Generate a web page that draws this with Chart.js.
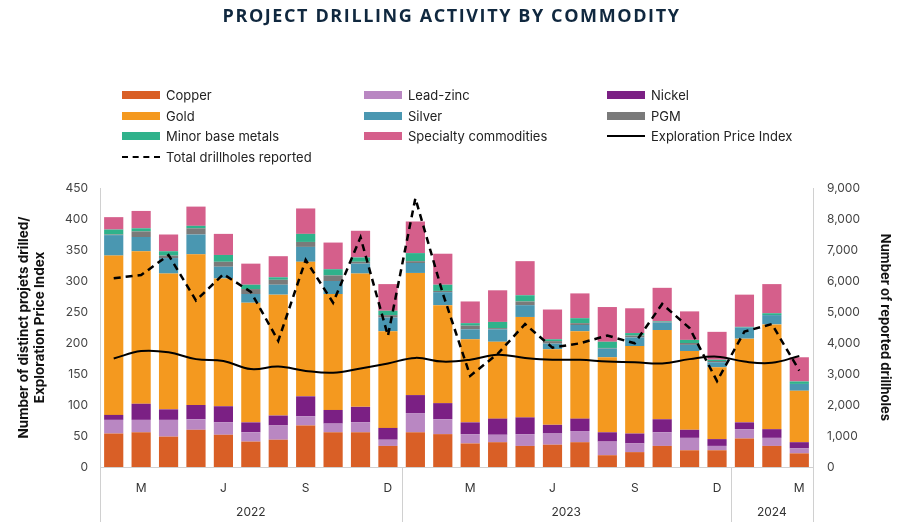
<!DOCTYPE html>
<html>
<head>
<meta charset="utf-8">
<script src="https://cdn.jsdelivr.net/npm/chart.js@4.4.1/dist/chart.umd.min.js"></script>
<style>
    body { margin: 0; background: #fff; font-family: Inter, "Liberation Sans", sans-serif; }
    #wrap { position: relative; width: 903px; height: 530px; }
    #chart { position: absolute; left: 0; top: 0; }
    .title {
        position: absolute; left: 0; top: 3px; width: 903px; text-align: center;
        font-family: "Open Sans", sans-serif; font-weight: 700; font-size: 18px;
        letter-spacing: 1.6px; color: #10283f;
    }
    .legend { position: absolute; left: 122px; top: 86px; width: 720px; font-size: 13px; color: #222; }
    .legend .item { position: absolute; display: flex; align-items: center; height: 18px; white-space: nowrap; }
    .legend .sw { width: 38px; height: 8px; margin-right: 6px; }
    .legend .ln { width: 38px; height: 0; border-top: 2px solid #000; margin-right: 6px; }
    .legend .dash { border-top: 2.5px dashed #000; }
</style>
</head>
<body>
<div id="wrap">
    <canvas id="chart" width="903" height="530"></canvas>
    <div class="title">PROJECT DRILLING ACTIVITY BY COMMODITY</div>
    <div class="legend" id="legend"></div>
</div>
<script>
const months = ['Feb', 'Mar', 'Apr', 'May', 'Jun', 'Jul', 'Aug', 'Sep', 'Oct', 'Nov', 'Dec',
    'Jan', 'Feb', 'Mar', 'Apr', 'May', 'Jun', 'Jul', 'Aug', 'Sep', 'Oct', 'Nov', 'Dec',
    'Jan', 'Feb', 'Mar'];
const years = [2022, 2022, 2022, 2022, 2022, 2022, 2022, 2022, 2022, 2022, 2022,
    2023, 2023, 2023, 2023, 2023, 2023, 2023, 2023, 2023, 2023, 2023, 2023,
    2024, 2024, 2024];
const tickMonths = ['Mar', 'Jun', 'Sep', 'Dec'];

const copper = [54, 56, 49, 60, 52, 41, 44, 67, 56, 56, 34, 56, 53, 38, 40, 34, 36, 40, 19, 24, 34, 27, 27, 46, 34, 22];
const leadZinc = [22, 20, 27, 17, 20, 15, 23, 15, 14, 16, 10, 31, 24, 15, 12, 19, 18, 18, 22, 14, 22, 20, 7, 15, 13, 8];
const nickel = [8, 26, 17, 23, 26, 16, 16, 32, 22, 25, 19, 29, 26, 19, 26, 27, 14, 20, 15, 16, 21, 13, 11, 11, 14, 10];
const gold = [257, 246, 219, 243, 206, 193, 195, 217, 187, 215, 156, 197, 158, 134, 124, 162, 122, 141, 121, 141, 144, 127, 116, 135, 169, 83];
const silver = [33, 23, 25, 32, 19, 14, 16, 24, 21, 16, 22, 16, 21, 16, 20, 19, 9, 10, 14, 14, 12, 10, 8, 18, 15, 11];
const pgm = [1, 9, 4, 10, 8, 8, 8, 8, 9, 3, 4, 3, 2, 6, 2, 6, 4, 3, 1, 3, 1, 3, 2, 0, 0, 0];
const minorBase = [8, 5, 7, 4, 11, 7, 4, 13, 10, 7, 7, 13, 10, 4, 10, 10, 3, 8, 10, 4, 1, 5, 2, 1, 3, 4];
const specialty = [20, 28, 27, 31, 34, 34, 34, 41, 43, 43, 43, 51, 50, 35, 51, 55, 48, 40, 56, 40, 54, 46, 45, 52, 47, 39];
const priceIndex = [175, 187, 185, 174, 171, 158, 162, 155, 152, 159, 167, 176, 170, 173, 181, 176, 173, 173, 170, 169, 167, 174, 178, 170, 168, 179];
const drillholes = [6090, 6190, 6840, 5370, 6220, 5650, 4070, 6680, 5300, 7410, 4230, 8670, 5600, 2940, 3650, 4610, 3850, 3990, 4240, 3990, 5260, 4480, 2770, 4370, 4610, 3110];

const barSeries = [
    { name: 'Copper', data: copper, color: '#d95f26' },
    { name: 'Lead-zinc', data: leadZinc, color: '#b987c2' },
    { name: 'Nickel', data: nickel, color: '#7b2084' },
    { name: 'Gold', data: gold, color: '#f4991f' },
    { name: 'Silver', data: silver, color: '#4a97b1' },
    { name: 'PGM', data: pgm, color: '#7a7a7a' },
    { name: 'Minor base metals', data: minorBase, color: '#2fb28b' },
    { name: 'Specialty commodities', data: specialty, color: '#d55f8b' }
];

// legend in 3 columns, html
const legendItems = [
    ['Copper', 'sw', '#d95f26'], ['Lead-zinc', 'sw', '#b987c2'], ['Nickel', 'sw', '#7b2084'],
    ['Gold', 'sw', '#f4991f'], ['Silver', 'sw', '#4a97b1'], ['PGM', 'sw', '#7a7a7a'],
    ['Minor base metals', 'sw', '#2fb28b'], ['Specialty commodities', 'sw', '#d55f8b'], ['Exploration Price Index', 'ln', null],
    ['Total drillholes reported', 'dash', null]
];
const colX = [0, 242, 485];
const rowY = [0, 20.5, 41, 62];
const legend = document.getElementById('legend');
legendItems.forEach((it, i) => {
    const el = document.createElement('div');
    el.className = 'item';
    el.style.left = colX[i % 3] + 'px';
    el.style.top = rowY[Math.floor(i / 3)] + 'px';
    let mark;
    if (it[1] === 'sw') mark = `<span class="sw" style="background:${it[2]}"></span>`;
    else if (it[1] === 'ln') mark = '<span class="ln"></span>';
    else mark = '<span class="ln dash"></span>';
    el.innerHTML = mark + it[0];
    legend.appendChild(el);
});

const yearAxis = {
    id: 'yearAxis',
    afterDraw(chart) {
        const { ctx, chartArea, scales } = chart;
        const x = scales.x;
        const step = x.getPixelForValue(1) - x.getPixelForValue(0);
        const groups = [];
        years.forEach((y, i) => {
            if (!groups.length || groups[groups.length - 1].year !== y) groups.push({ year: y, start: i, end: i });
            else groups[groups.length - 1].end = i;
        });
        ctx.save();
        ctx.strokeStyle = '#d0d0d0';
        ctx.lineWidth = 1;
        ctx.fillStyle = '#333';
        ctx.font = '12px Inter, "Liberation Sans", sans-serif';
        ctx.textAlign = 'center';
        ctx.textBaseline = 'middle';
        const edges = [];
        groups.forEach(g => {
            const left = x.getPixelForValue(g.start) - step / 2;
            const right = x.getPixelForValue(g.end) + step / 2;
            edges.push(left, right);
            ctx.fillText(String(g.year), (left + right) / 2, 512);
        });
        [...new Set(edges.map(e => Math.round(e)))].forEach(e => {
            ctx.beginPath();
            ctx.moveTo(e + 0.5, chartArea.bottom);
            ctx.lineTo(e + 0.5, 522);
            ctx.stroke();
        });
        ctx.restore();
    }
};

const datasets = [
    {
        type: 'line', label: 'Exploration Price Index', data: priceIndex, yAxisID: 'y', stack: 'epi',
        borderColor: '#000', borderWidth: 2, pointRadius: 0, tension: 0.4, order: 0
    },
    {
        type: 'line', label: 'Total drillholes reported', data: drillholes, yAxisID: 'y2',
        borderColor: '#000', borderWidth: 2.5, borderDash: [7, 5], pointRadius: 0, tension: 0, order: 0
    }
].concat(barSeries.map(s => ({
    type: 'bar', label: s.name, data: s.data, backgroundColor: s.color, yAxisID: 'y', stack: 'bars',
    barPercentage: 0.7, categoryPercentage: 1, borderWidth: 0, order: 1
})));

new Chart(document.getElementById('chart'), {
    data: { labels: months.map((m, i) => m + ' ' + years[i]), datasets },
    options: {
        responsive: false,
        animation: false,
        layout: { padding: { top: 188, left: 0, right: 0, bottom: 0 } },
        plugins: { legend: { display: false }, tooltip: { enabled: false } },
        scales: {
            x: {
                stacked: true,
                grid: { display: false, drawTicks: false },
                border: { color: '#d0d0d0' },
                ticks: {
                    autoSkip: false, maxRotation: 0, padding: 14, color: '#333',
                    font: { size: 12, family: 'Inter' },
                    callback: (v, i) => tickMonths.includes(months[i]) ? months[i][0] : ''
                },
                afterFit: s => { s.height = 63; }
            },
            y: {
                stacked: true, min: 0, max: 450, position: 'left',
                grid: { display: false, drawTicks: false },
                border: { color: '#d0d0d0' },
                ticks: { stepSize: 50, padding: 12, color: '#444', font: { size: 12, family: 'Inter' } },
                title: {
                    display: true, text: ['Number of distinct projets drilled/', 'Exploration Price Index'],
                    color: '#111', font: { size: 13.5, weight: 'bold', family: 'Inter' }, padding: { top: 16, bottom: 0 }
                },
                afterFit: s => { s.width = 100; }
            },
            y2: {
                min: 0, max: 9000, position: 'right',
                grid: { display: false, drawTicks: false },
                border: { color: '#d0d0d0' },
                ticks: {
                    stepSize: 1000, padding: 14, color: '#444', font: { size: 12, family: 'Inter' },
                    callback: v => v.toLocaleString('en-US')
                },
                title: {
                    display: true, text: 'Number of reported drillholes',
                    color: '#111', font: { size: 13, weight: 'bold', family: 'Inter' }, padding: { top: 10, bottom: 0 }
                },
                afterFit: s => { s.width = 90; }
            }
        }
    },
    plugins: [yearAxis]
});
</script>
</body>
</html>
